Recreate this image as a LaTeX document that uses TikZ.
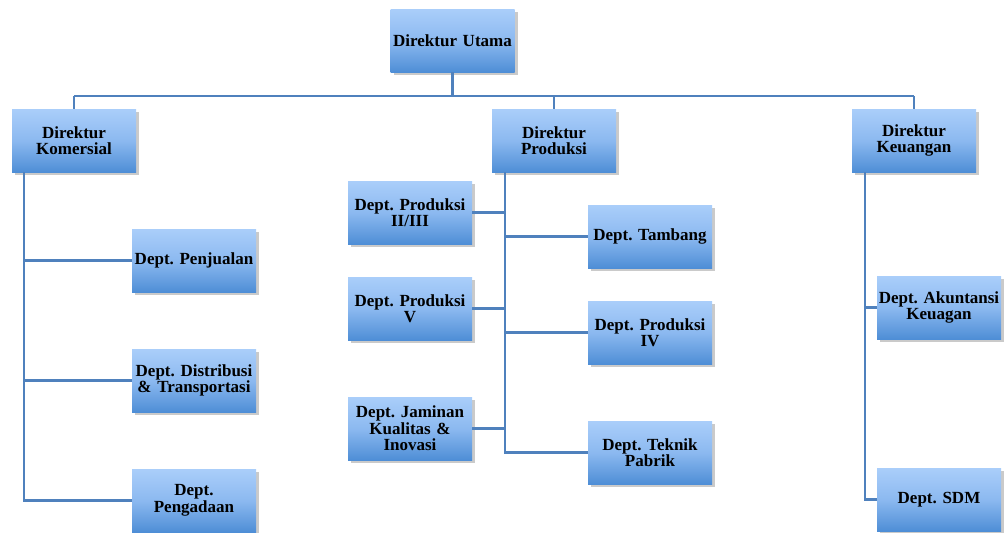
\documentclass[tikz,border=0pt]{standalone}
\usepackage{fontspec}
\setmainfont{Liberation Serif}
\frenchspacing
\usetikzlibrary{shadows,calc}
\definecolor{linec}{RGB}{79,129,189}
\definecolor{boxtop}{RGB}{170,206,250}
\definecolor{boxbot}{RGB}{78,142,214}
\tikzset{
  orgbox/.style={rectangle, minimum width=124pt, minimum height=63pt, inner sep=0pt,
    text width=124pt, align=center, font=\bfseries\fontsize{17}{16.5}\selectfont,
    top color=boxtop, bottom color=boxbot, middle color={rgb,255:red,140;green,185;blue,240},
    drop shadow={shadow xshift=3pt, shadow yshift=-3pt, opacity=0.35, fill=black!60}},
  conn/.style={draw=linec, line width=2.2pt}
}
\begin{document}
\begin{tikzpicture}[x=1pt,y=-1pt]
\useasboundingbox (0,0) rectangle (1005,533);
\node[orgbox] (du) at (452.5,40.5) {Direktur Utama};
\node[orgbox] (dk) at (74,140.5) {Direktur\\Komersial};
\node[orgbox] (dp) at (554,140.5) {Direktur\\Produksi};
\node[orgbox] (dkeu) at (914,140.5) {Direktur\\Keuangan};
\node[orgbox] (pj) at (194,260.5) {Dept. Penjualan};
\node[orgbox] (dt) at (194,380.5) {Dept. Distribusi\\\& Transportasi};
\node[orgbox] (pg) at (194,500.5) {Dept.\\Pengadaan};
\node[orgbox] (p23) at (410,212.5) {Dept. Produksi\\II/III};
\node[orgbox] (p5) at (410,308.5) {Dept. Produksi\\V};
\node[orgbox] (jk) at (410,428.5) {Dept. Jaminan\\Kualitas \&\\Inovasi};
\node[orgbox] (tb) at (650,236.5) {Dept. Tambang};
\node[orgbox] (p4) at (650,332.5) {Dept. Produksi\\IV};
\node[orgbox] (tp) at (650,452.5) {Dept. Teknik\\Pabrik};
\node[orgbox] (ak) at (939,307.5) {Dept. Akuntansi\\Keuagan};
\node[orgbox] (sdm) at (939,499.5) {Dept. SDM};
% bus
\coordinate (bus) at (452.5,96);
\draw[conn] (du.south) -- (du.south |- bus);
\draw[conn] (dk.north |- bus) -- (dkeu.north |- bus);
\draw[conn] (dk.north |- bus) -- (dk.north);
\draw[conn] (dp.north |- bus) -- (dp.north);
\draw[conn] (dkeu.north |- bus) -- (dkeu.north);
% Komersial
\coordinate (kt) at ($(dk.south west)+(12,0)$);
\draw[conn] (kt) -- (kt |- pg.west) -- (pg.west);
\draw[conn] (kt |- pj.west) -- (pj.west);
\draw[conn] (kt |- dt.west) -- (dt.west);
% Produksi
\coordinate (pt) at ($(dp.south west)+(13,0)$);
\draw[conn] (pt) -- (pt |- tp.west) -- (tp.west);
\draw[conn] (p23.east) -- (pt |- p23.east);
\draw[conn] (p5.east) -- (pt |- p5.east);
\draw[conn] (jk.east) -- (pt |- jk.east);
\draw[conn] (pt |- tb.west) -- (tb.west);
\draw[conn] (pt |- p4.west) -- (p4.west);
% Keuangan
\coordinate (ft) at ($(dkeu.south west)+(13,0)$);
\draw[conn] (ft) -- (ft |- sdm.west) -- (sdm.west);
\draw[conn] (ft |- ak.west) -- (ak.west);
\end{tikzpicture}
\end{document}
